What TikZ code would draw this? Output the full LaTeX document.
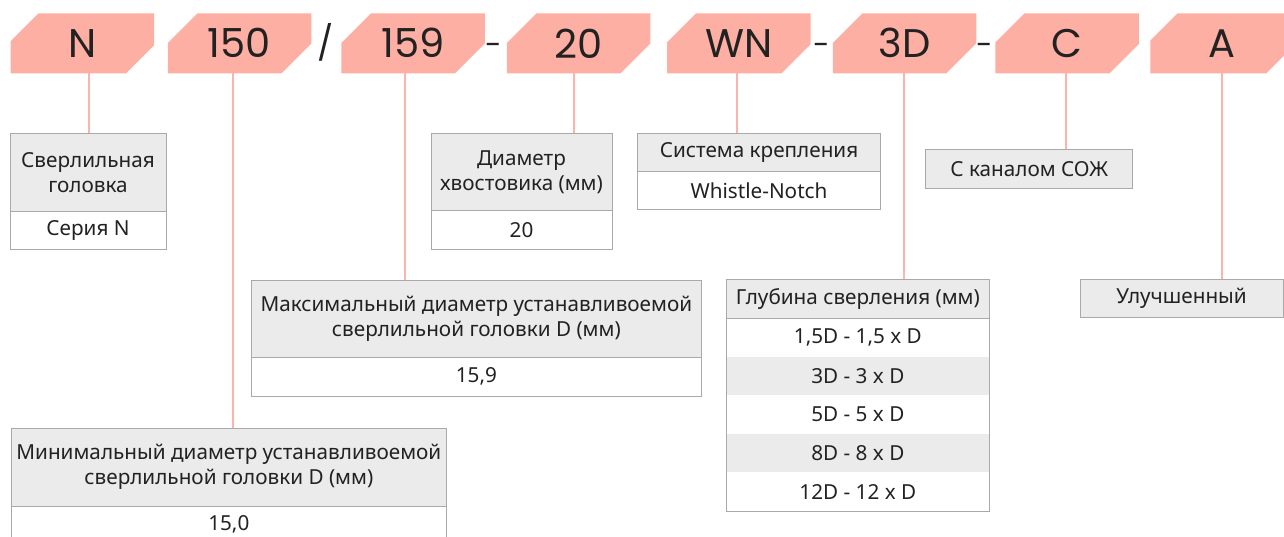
\documentclass[tikz,border=0pt]{standalone}
\usepackage{fontspec}
\setmainfont{Noto Sans}
\newfontfamily\codefont{Poppins}
\usetikzlibrary{shapes.misc}
\definecolor{codepink}{HTML}{FEAFA4}
\definecolor{connpink}{HTML}{FDB5AB}
\definecolor{hdrgray}{HTML}{EBEBEB}
\definecolor{bordgray}{HTML}{A9A9A9}
\definecolor{txt}{HTML}{222222}
\begin{document}
\begin{tikzpicture}[x=1pt,y=-1pt,
  code/.style={chamfered rectangle, chamfered rectangle corners={north west,south east},
    chamfered rectangle xsep=15pt, chamfered rectangle ysep=15pt, fill=codepink,
    minimum width=143.5pt, minimum height=60pt, inner sep=0pt, text=txt,
    font=\codefont\fontsize{40}{40}\selectfont},
  slashsep/.style={inner sep=0pt, anchor=base, text=txt, font=\codefont\fontsize{34}{34}\selectfont},
  dashsep/.style={inner sep=0pt, anchor=base, text=txt, font=\codefont\fontsize{30}{30}\selectfont},
  cell/.style={inner sep=0pt, text=txt, align=center, font=\fontsize{20.7}{25}\selectfont},
  hdr/.style={cell, draw=bordgray, fill=hdrgray, line width=1pt},
  val/.style={cell, draw=bordgray, fill=white, line width=1pt},
  row/.style={cell, minimum width=262.3pt, minimum height=38.5pt},
  conn/.style={draw=connpink, line width=2pt}]
\useasboundingbox (0,0) rectangle (1284,537);
% code boxes
\node[code] (cN)  at (82.25,43.3) {N};
\node[code] (c150) at (239.5,43.3) {150};
\node[slashsep] (s1) at (326,56) {/};
\node[code] (c159) at (413,43.3) {159};
\node[dashsep] (s2) at (494,55.3) {-};
\node[code] (c20) at (578.5,43.3) {20};
\node[code] (cWN) at (738.75,43.3) {WN};
\node[dashsep] (s3) at (822,55.3) {-};
\node[code] (c3D) at (904.5,43.3) {3D};
\node[dashsep] (s4) at (985,55.3) {-};
\node[code] (cC) at (1067.1,43.3) {C};
\node[code] (cA) at (1222,43.3) {A};
% tables
\node[hdr, minimum width=156pt, minimum height=77.7pt] (tNh) at (88,172.85) {Сверлильная\\головка};
\node[val, minimum width=156pt, minimum height=38.3pt] (tNv) at (88,230.85) {Серия N};
\node[hdr, minimum width=181pt, minimum height=77pt] (t20h) at (521.5,172.5) {Диаметр\\хвостовика (мм)};
\node[val, minimum width=181pt, minimum height=39pt] (t20v) at (521.5,230.5) {20};
\node[hdr, minimum width=242.3pt, minimum height=38.4pt] (tWNh) at (759,152.5) {Система крепления};
\node[val, minimum width=242.3pt, minimum height=38.3pt] (tWNv) at (759,190.85) {Whistle-Notch};
\node[hdr, minimum width=207pt, minimum height=39pt] (tC) at (1029.2,169.5) {С каналом СОЖ};
\node[hdr, minimum width=450.7pt, minimum height=77pt] (tMaxh) at (476.35,318.5) {Максимальный диаметр устанавливоемой\\сверлильной головки D (мм)};
\node[val, minimum width=450.7pt, minimum height=39pt] (tMaxv) at (476.35,376.5) {15,9};
\node[hdr, minimum width=435.7pt, minimum height=78pt] (tMinh) at (228.85,467) {Минимальный диаметр устанавливоемой\\сверлильной головки D (мм)};
\node[val, minimum width=435.7pt, minimum height=36pt] (tMinv) at (228.85,524) {15,0};
\node[hdr, minimum width=203pt, minimum height=38pt] (tA) at (1181.5,298) {Улучшенный};
% depth table
\node[row, fill=hdrgray, minimum height=39pt] (dH) at (857.85,298.8) {Глубина сверления (мм)};
\node[row, fill=white] (d1) at (857.85,337.55) {1,5D - 1,5 x D};
\node[row, fill=hdrgray] (d2) at (857.85,376.05) {3D - 3 x D};
\node[row, fill=white] (d3) at (857.85,414.55) {5D - 5 x D};
\node[row, fill=hdrgray] (d4) at (857.85,453.05) {8D - 8 x D};
\node[row, fill=white] (d5) at (857.85,491.55) {12D - 12 x D};
\draw[draw=bordgray, line width=1pt] (dH.south west) -- (dH.south east);
\draw[draw=bordgray, line width=1pt] (dH.north west) rectangle (d5.south east);
% connectors
\draw[conn] (cN.south -| 89,0) -- (tNh.north -| 89,0);
\draw[conn] (c150.south -| 233,0) -- (tMinh.north -| 233,0);
\draw[conn] (c159.south -| 405,0) -- (tMaxh.north -| 405,0);
\draw[conn] (c20.south -| 574,0) -- (t20h.north -| 574,0);
\draw[conn] (cWN.south -| 737,0) -- (tWNh.north -| 737,0);
\draw[conn] (c3D.south -| 904,0) -- (dH.north -| 904,0);
\draw[conn] (cC.south -| 1066,0) -- (tC.north -| 1066,0);
\draw[conn] (cA.south -| 1222,0) -- (tA.north -| 1222,0);
\end{tikzpicture}
\end{document}
